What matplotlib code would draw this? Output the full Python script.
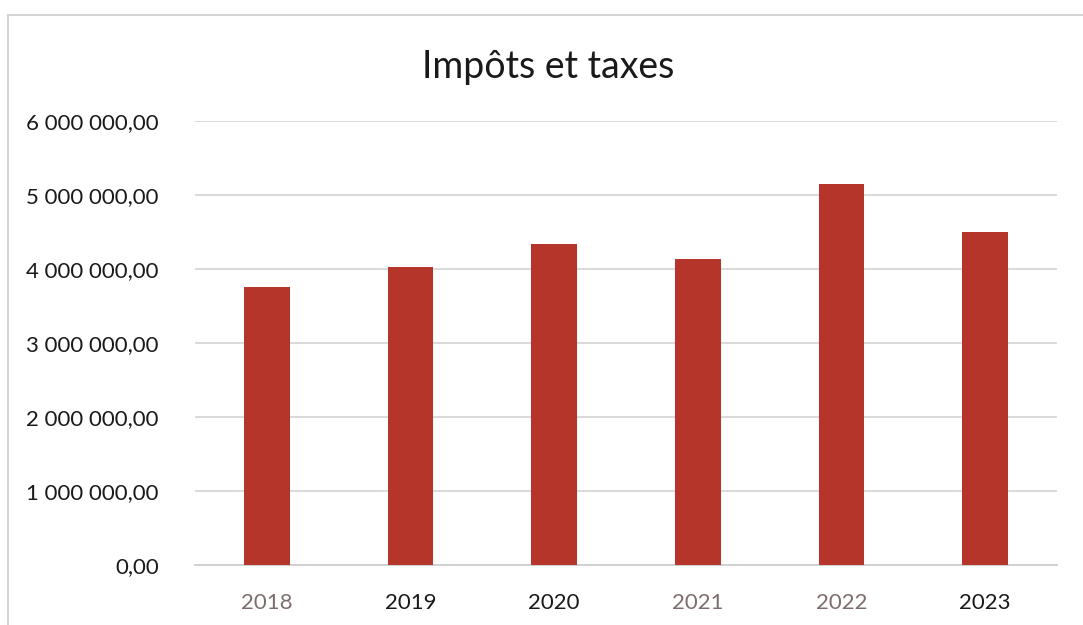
import matplotlib.pyplot as plt
from matplotlib.patches import Rectangle
from matplotlib.ticker import FuncFormatter

plt.rcParams['font.family'] = ['Lato', 'DejaVu Sans']

years = ['2018', '2019', '2020', '2021', '2022', '2023']
amounts = [3753000, 4023000, 4338000, 4131000, 5149000, 4504000]
label_colors = ['#7d6e6e', '#1a1a1a', '#1a1a1a', '#7d6e6e', '#7d6e6e', '#1a1a1a']


def fr_money(v, pos):
    s = f"{v:,.2f}"
    return s.replace(',', ' ').replace('.', ',')


fig = plt.figure(figsize=(10.83, 6.25), dpi=100)
ax = fig.add_axes([195 / 1083, 1 - 565 / 625, 862 / 1083, 444 / 625])

ax.bar(range(len(years)), amounts, width=0.32, color='#b5352b', zorder=3)

ax.set_ylim(0, 6000000)
ax.set_xlim(-0.5, len(years) - 0.5)
ax.set_yticks(range(0, 6000001, 1000000))
ax.yaxis.set_major_formatter(FuncFormatter(fr_money))
ax.set_xticks(range(len(years)))
ax.set_xticklabels(years)

ax.grid(axis='y', color='#d9d9d9', linewidth=1.4, zorder=0)
for side in ['top', 'right', 'left']:
    ax.spines[side].set_visible(False)
ax.spines['bottom'].set_color('#d0d0d0')
ax.spines['bottom'].set_linewidth(1.4)
ax.tick_params(axis='both', length=0, labelsize=16, colors='#1a1a1a')
ax.tick_params(axis='y', pad=26)
ax.tick_params(axis='x', pad=20)
for lbl, c in zip(ax.get_xticklabels(), label_colors):
    lbl.set_color(c)

fig.text(548 / 1083, 1 - 67 / 625, 'Impôts et taxes', ha='center', va='center',
         fontsize=27, color='#1a1a1a')

# light frame around the chart area
fig.patches.append(Rectangle((8 / 1083, -0.05), 1.1, 1 - 15 / 625 + 0.05,
                             transform=fig.transFigure, fill=False,
                             edgecolor='#d4d4d4', linewidth=1.5))

fig.savefig('out.png', dpi=100, facecolor='white')
